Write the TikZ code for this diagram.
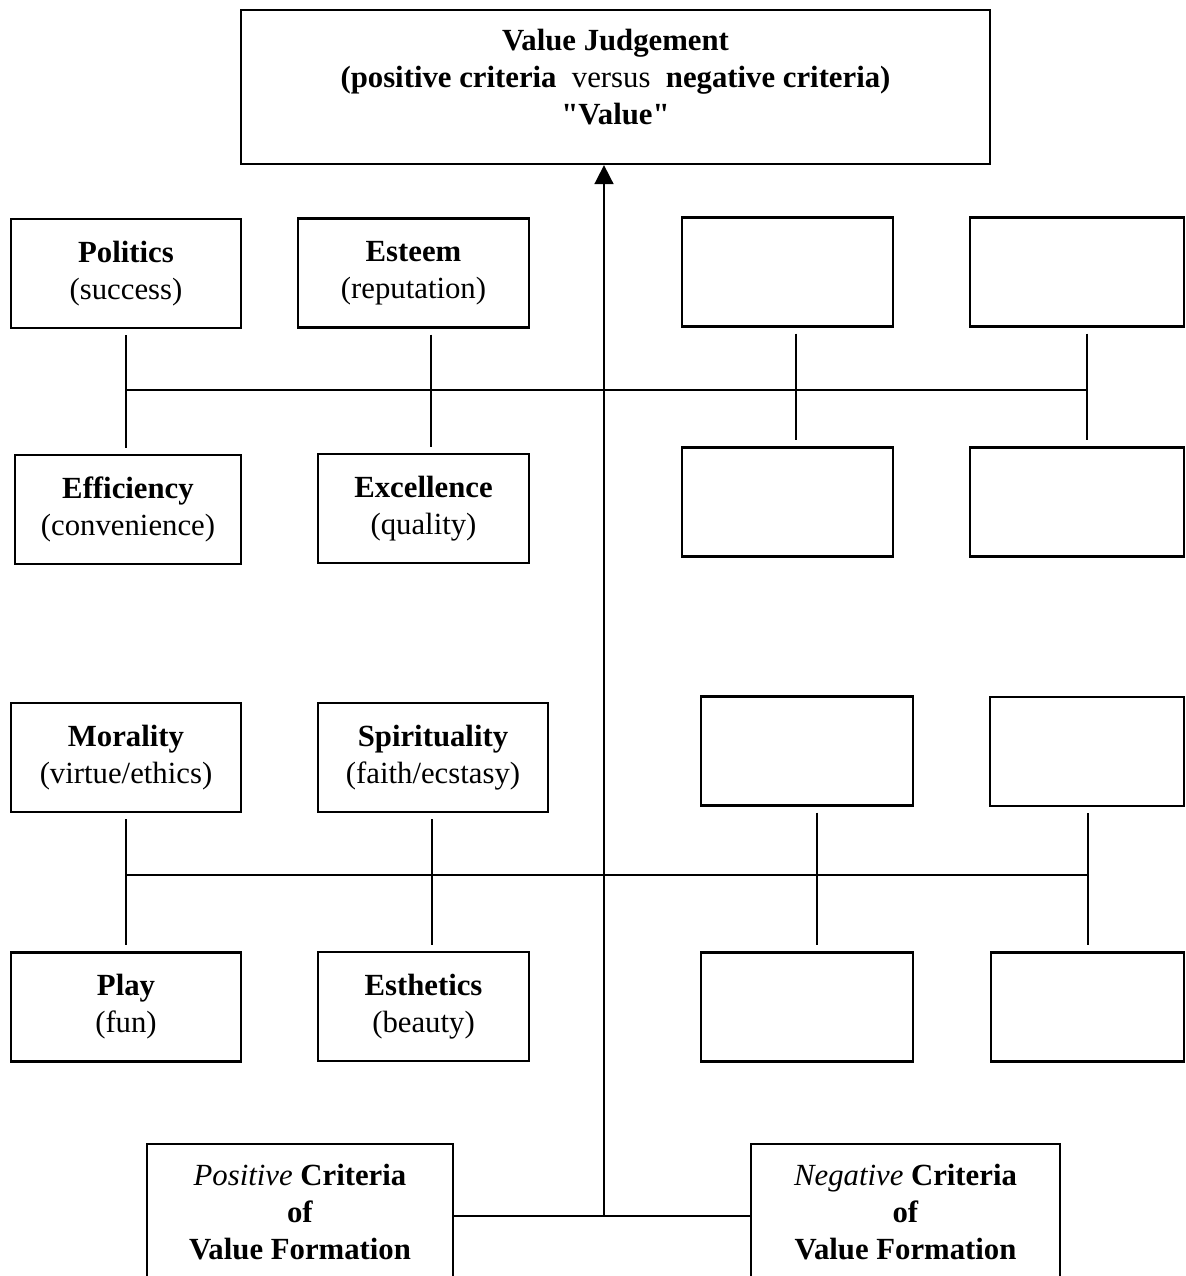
\documentclass[tikz,border=0pt]{standalone}
\usepackage{fontspec}
\setmainfont{Liberation Serif}
\newfontfamily\quotefont{Liberation Serif}
\usetikzlibrary{arrows.meta}

\begin{document}
\begin{tikzpicture}[>={Triangle[width=0.38cm,length=0.38cm]},
 font=\fontsize{17.5}{21}\selectfont,
 box/.style={draw,line width=1.3pt,align=center,inner sep=2pt},
 small/.style={box,minimum width=4.6cm,minimum height=2.18cm},
 link/.style={line width=1pt,shorten <=0.12cm,shorten >=0.12cm},
 bus/.style={line width=1pt}]
\clip (0,0) rectangle (23.7,-25.52);
% top
\node[box,minimum width=14.98cm,minimum height=3.08cm] (val) at (12.31,-1.74)
 {\textbf{Value Judgement}\\\textbf{(positive criteria}\ \ versus\ \ \textbf{negative criteria)}\\{\quotefont\bfseries "Value"}\\[-0.34cm]};
% upper group
\node[small] (pol) at (2.52,-5.47) {\textbf{Politics}\\(success)};
\node[small,minimum width=4.62cm] (est) at (8.27,-5.46) {\textbf{Esteem}\\(reputation)};
\node[small,minimum width=4.22cm] (u1) at (15.75,-5.44) {};
\node[small,minimum width=4.28cm] (u2) at (21.54,-5.44) {};
\node[small,minimum width=4.52cm] (eff) at (2.56,-10.19) {\textbf{Efficiency}\\(convenience)};
\node[small,minimum width=4.22cm] (exc) at (8.47,-10.17) {\textbf{Excellence}\\(quality)};
\node[small,minimum width=4.22cm] (u3) at (15.75,-10.04) {};
\node[small,minimum width=4.28cm] (u4) at (21.54,-10.04) {};
% lower group
\node[small] (mor) at (2.52,-15.15) {\textbf{Morality}\\(virtue/ethics)};
\node[small] (spi) at (8.66,-15.15) {\textbf{Spirituality}\\(faith/ecstasy)};
\node[small,minimum width=4.24cm] (l1) at (16.14,-15.02) {};
\node[small,minimum width=3.88cm] (l2) at (21.74,-15.03) {};
\node[small] (pla) at (2.52,-20.14) {\textbf{Play}\\(fun)};
\node[small,minimum width=4.22cm] (est2) at (8.47,-20.13) {\textbf{Esthetics}\\(beauty)};
\node[small,minimum width=4.24cm] (l3) at (16.14,-20.14) {};
\node[small,minimum width=3.86cm] (l4) at (21.75,-20.14) {};
% criteria
\node[box,minimum width=6.12cm,minimum height=2.72cm] (pos) at (6.0,-24.24)
 {\textit{Positive} \textbf{Criteria}\\\textbf{of}\\\textbf{Value Formation}};
\node[box,minimum width=6.18cm,minimum height=2.72cm] (neg) at (18.11,-24.24)
 {\textit{Negative} \textbf{Criteria}\\\textbf{of}\\\textbf{Value Formation}};
% buses
\coordinate (ua) at (2.52,-7.8);
\coordinate (ub) at (8.62,-7.8);
\coordinate (uc) at (15.92,-7.8);
\coordinate (ud) at (21.74,-7.8);
\coordinate (la) at (2.52,-17.5);
\coordinate (lb) at (8.64,-17.5);
\coordinate (lc) at (16.34,-17.5);
\coordinate (ld) at (21.76,-17.5);
\coordinate (jn) at (12.08,-24.32);
\draw[bus] (ua) -- (ud);
\draw[bus] (la) -- (ld);
\draw[link] (pol.south -| ua) -- (eff.north -| ua);
\draw[link] (est.south -| ub) -- (exc.north -| ub);
\draw[link] (u1.south -| uc) -- (u3.north -| uc);
\draw[link] (u2.south -| ud) -- (u4.north -| ud);
\draw[link] (mor.south -| la) -- (pla.north -| la);
\draw[link] (spi.south -| lb) -- (est2.north -| lb);
\draw[link] (l1.south -| lc) -- (l3.north -| lc);
\draw[link] (l2.south -| ld) -- (l4.north -| ld);
% to the judgement
\draw[bus] (pos.east |- jn) -- (neg.west |- jn);
\draw[bus,->] (jn) -- (jn |- val.south);
\end{tikzpicture}
\end{document}
